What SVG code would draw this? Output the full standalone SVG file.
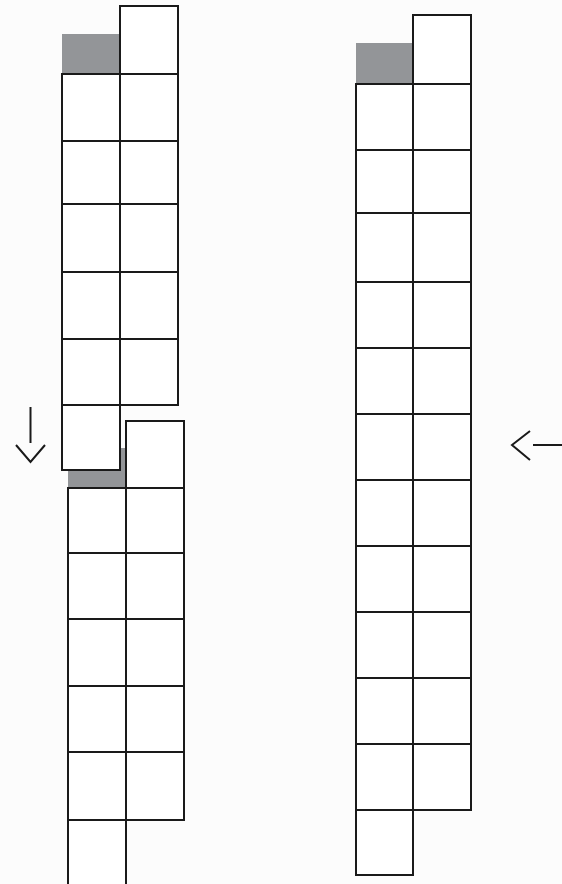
<svg xmlns="http://www.w3.org/2000/svg" width="562" height="884" viewBox="0 0 562 884">
<style>
.bg{fill:#fcfcfc}
.c{fill:#ffffff;stroke:#1a1a1a;stroke-width:2}
.g{fill:#939598}
.a{fill:none;stroke:#1a1a1a;stroke-width:2}
</style>
<rect class="bg" x="0" y="0" width="562" height="884"/>
<g id="strip-lower-left">
<rect class="g" x="68" y="448" width="58" height="40"/>
<rect class="c" x="126" y="421" width="58" height="67"/>
<rect class="c" x="68" y="488" width="58" height="65"/><rect class="c" x="126" y="488" width="58" height="65"/>
<rect class="c" x="68" y="553" width="58" height="66"/><rect class="c" x="126" y="553" width="58" height="66"/>
<rect class="c" x="68" y="619" width="58" height="67"/><rect class="c" x="126" y="619" width="58" height="67"/>
<rect class="c" x="68" y="686" width="58" height="66"/><rect class="c" x="126" y="686" width="58" height="66"/>
<rect class="c" x="68" y="752" width="58" height="68"/><rect class="c" x="126" y="752" width="58" height="68"/>
<rect class="c" x="68" y="820" width="58" height="65"/>
</g>
<g id="strip-upper-left">
<rect class="g" x="62" y="34" width="58" height="40"/>
<rect class="c" x="120" y="6" width="58" height="68"/>
<rect class="c" x="62" y="74" width="58" height="67"/><rect class="c" x="120" y="74" width="58" height="67"/>
<rect class="c" x="62" y="141" width="58" height="63"/><rect class="c" x="120" y="141" width="58" height="63"/>
<rect class="c" x="62" y="204" width="58" height="68"/><rect class="c" x="120" y="204" width="58" height="68"/>
<rect class="c" x="62" y="272" width="58" height="67"/><rect class="c" x="120" y="272" width="58" height="67"/>
<rect class="c" x="62" y="339" width="58" height="66"/><rect class="c" x="120" y="339" width="58" height="66"/>
<rect class="c" x="62" y="405" width="58" height="65"/>
</g>
<g id="strip-right">
<rect class="g" x="356" y="43" width="57" height="41"/>
<rect class="c" x="413" y="15" width="58" height="69"/>
<rect class="c" x="356" y="84" width="57" height="66"/><rect class="c" x="413" y="84" width="58" height="66"/>
<rect class="c" x="356" y="150" width="57" height="63"/><rect class="c" x="413" y="150" width="58" height="63"/>
<rect class="c" x="356" y="213" width="57" height="69"/><rect class="c" x="413" y="213" width="58" height="69"/>
<rect class="c" x="356" y="282" width="57" height="66"/><rect class="c" x="413" y="282" width="58" height="66"/>
<rect class="c" x="356" y="348" width="57" height="66"/><rect class="c" x="413" y="348" width="58" height="66"/>
<rect class="c" x="356" y="414" width="57" height="66"/><rect class="c" x="413" y="414" width="58" height="66"/>
<rect class="c" x="356" y="480" width="57" height="66"/><rect class="c" x="413" y="480" width="58" height="66"/>
<rect class="c" x="356" y="546" width="57" height="66"/><rect class="c" x="413" y="546" width="58" height="66"/>
<rect class="c" x="356" y="612" width="57" height="66"/><rect class="c" x="413" y="612" width="58" height="66"/>
<rect class="c" x="356" y="678" width="57" height="66"/><rect class="c" x="413" y="678" width="58" height="66"/>
<rect class="c" x="356" y="744" width="57" height="66"/><rect class="c" x="413" y="744" width="58" height="66"/>
<rect class="c" x="356" y="810" width="57" height="65"/>
</g>
<g id="connectors">
<path class="a" d="M30.5 407 V443 M16 445 L30.5 462 L45 445"/>
<path class="a" d="M533 445 H562 M530 431 L512 445 L530 460"/>
</g>
</svg>
